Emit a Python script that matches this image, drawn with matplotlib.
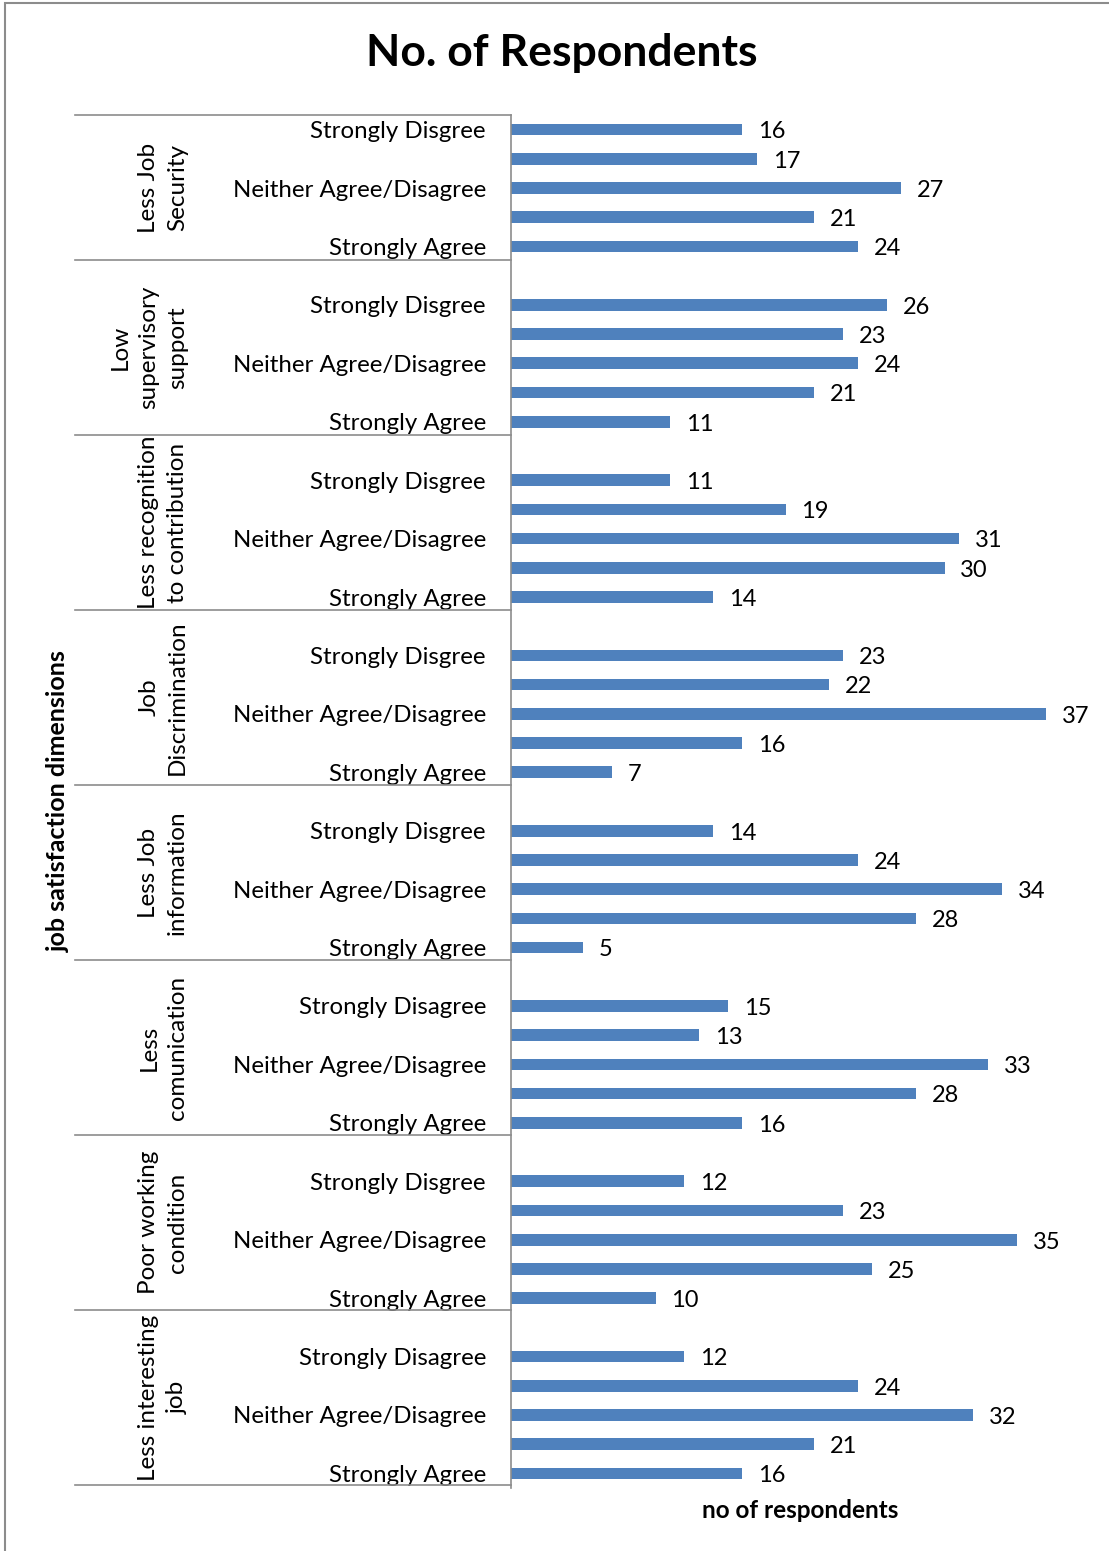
import matplotlib
matplotlib.use("Agg")
import matplotlib.pyplot as plt
from matplotlib.patches import Rectangle
from matplotlib.lines import Line2D

plt.rcParams['font.family'] = ['Lato', 'DejaVu Sans']

groups = ["Less Job\nSecurity", "Low\nsupervisory\nsupport",
          "Less recognition\nto contribution", "Job\nDiscrimination",
          "Less Job\ninformation", "Less\ncomunication",
          "Poor working\ncondition", "Less interesting\njob"]
# top to bottom within each group
values = [
    [16, 17, 27, 21, 24],
    [26, 23, 24, 21, 11],
    [11, 19, 31, 30, 14],
    [23, 22, 37, 16, 7],
    [14, 24, 34, 28, 5],
    [15, 13, 33, 28, 16],
    [12, 23, 35, 25, 10],
    [12, 24, 32, 21, 16],
]
first_label = ["Strongly Disgree"] * 5 + ["Strongly Disagree", "Strongly Disgree", "Strongly Disagree"]
item_labels = ["", "", "Neither Agree/Disagree", "", "Strongly Agree"]

W, H = 1109, 1551
fig = plt.figure(figsize=(W / 100, H / 100), dpi=100)
ax = fig.add_axes([511 / W, 1 - 1488 / H, 578 / W, 1373 / H])

color = "#4F81BD"
n_slots = len(groups) * 6 - 1
ticks, ticklabels = [], []
for g, vals in enumerate(values):
    for i, v in enumerate(vals):
        y = g * 6 + i
        ax.barh(y, v, height=0.4, color=color)
        ax.text(v + 1.1, y + 0.08, str(v), va="center", ha="left", fontsize=17)
        lab = first_label[g] if i == 0 else item_labels[i]
        if lab:
            ticks.append(y)
            ticklabels.append(lab)

ax.set_ylim(n_slots - 0.5, -0.5)
ax.set_xlim(0, 40)
ax.set_yticks(ticks)
ax.set_yticklabels(ticklabels, fontsize=17.3)
ax.tick_params(axis="y", length=0, pad=18)
ax.set_xticks([])
for s in ["top", "right", "bottom"]:
    ax.spines[s].set_visible(False)
ax.spines["left"].set_color("#8c8c8c")
ax.spines["left"].set_linewidth(1.2)

# group separators and group labels (in figure pixel coords)
tr = fig.transFigure
bounds = [115] + [115 + 145 + 175 * k for k in range(8)]
for b in bounds:
    fig.add_artist(Line2D([75 / W, 511 / W], [1 - b / H, 1 - b / H],
                          transform=tr, color="#8c8c8c", lw=1.2))
for g, name in enumerate(groups):
    yc = (bounds[g] + bounds[g + 1]) / 2
    fig.text(188 / W, 1 - yc / H, name, rotation=90, ha="right", va="center",
             multialignment="center", fontsize=17.5, linespacing=1.45)

fig.text(800 / W, 1 - 1510 / H, "no of respondents", ha="center", va="center",
         fontsize=17.5, fontweight="bold")
fig.text(58 / W, 1 - 801 / H, "job satisfaction dimensions", rotation=90,
         ha="center", va="center", fontsize=18, fontweight="bold")
fig.text(562 / W, 1 - 53 / H, "No. of Respondents", ha="center", va="center",
         fontsize=32, fontweight="bold")

fig.add_artist(Rectangle((5 / W, -0.1), 1.2, 1 - 3 / H + 0.1, transform=tr,
                         fill=False, edgecolor="#8c8c8c", lw=1.5))

fig.savefig("out.png", dpi=100)
